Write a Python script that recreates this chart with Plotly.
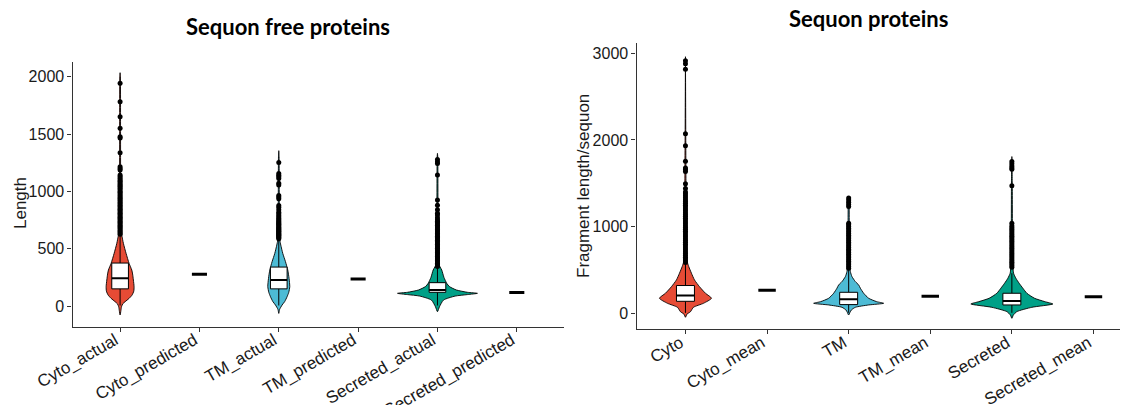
import plotly.graph_objects as go

# ---------------- data ----------------
left_categories = ["Cyto_actual", "Cyto_predicted", "TM_actual", "TM_predicted",
                   "Secreted_actual", "Secreted_predicted"]
right_categories = ["Cyto", "Cyto_mean", "TM", "TM_mean", "Secreted", "Secreted_mean"]

# violin density profiles: value levels and relative half-width (density)
cyto_l_levels = [-78, -40, -6, 20, 38, 67, 96, 130, 169, 227, 280, 314, 372, 459, 547, 619, 692, 800, 1100, 1500, 2000, 2035]
cyto_l_density = [0, 0.8, 1.4, 2.7, 5, 9, 12, 13.7, 14, 13.3, 12.5, 11.7, 9, 6, 3.3, 1.7, 1, 0.6, 0.5, 0.45, 0.3, 0]
tm_l_levels = [-64, -30, 9, 40, 81, 120, 169, 241, 314, 387, 459, 532, 576, 650, 900, 1300, 1355]
tm_l_density = [0, 0.8, 3.3, 6, 8.3, 10, 11, 10.3, 9, 6.7, 4, 2, 1, 0.6, 0.5, 0.3, 0]
sec_l_levels = [-49, -6, 52, 87, 100, 111, 120, 140, 170, 198, 250, 314, 343, 370, 420, 800, 1300, 1332]
sec_l_density = [0, 2, 6, 17.7, 30, 40, 30, 19, 12, 9.3, 6.5, 4.3, 2.5, 1.2, 0.7, 0.5, 0.3, 0]

cyto_r_levels = [-46, -10, 18, 69, 115, 173, 231, 307, 385, 462, 538, 596, 700, 1000, 1500, 2960]
cyto_r_density = [0, 1.5, 5, 8, 18, 26, 20, 14, 9, 6, 3.3, 1.7, 1, 0.6, 0.5, 0]
tm_r_levels = [-20, 10, 38, 69, 96, 115, 134, 173, 231, 289, 327, 365, 423, 481, 560, 800, 1300, 1340]
tm_r_density = [0, 1.3, 2.7, 6.7, 20, 35, 28, 20, 15, 11.7, 10, 6.7, 3.3, 1.7, 1, 0.6, 0.4, 0]
sec_r_levels = [-58, -20, 19, 69, 107, 134, 173, 231, 289, 346, 404, 462, 540, 800, 1500, 1808]
sec_r_density = [0, 1.5, 5, 20, 41, 33, 22.7, 15, 11, 7.3, 4, 1.7, 1, 0.6, 0.4, 0]

# box statistics: q1, median, q3, lower whisker, upper whisker
cyto_l_box = [150, 242, 375, 5, 615]
tm_l_box = [150, 227, 340, 5, 580]
sec_l_box = [120, 140, 204, 5, 340]
cyto_r_box = [138, 205, 320, 5, 577]
tm_r_box = [100, 163, 242, 5, 510]
sec_r_box = [96, 142, 231, 5, 462]

# predicted / mean values
left_predicted = [278, 237, 119]
right_mean = [265, 195, 192]

# outliers
cyto_l_out = [1942, 1782, 1651, 1550, 1477, 1465, 1337, 1215, 1200, 1186, 1143, 1130, 1114, 1100, 1088,
              1075, 1062, 1050, 1040, 1028, 1015, 1000, 990, 978, 965, 952, 940, 928, 916, 904, 892, 880,
              868, 856, 845, 833, 821, 810, 798, 786, 775, 763, 752, 740, 728, 717, 705, 694, 682, 671,
              660, 648, 637, 626]
tm_l_out = [1253, 1157, 1140, 1128, 1112, 1070, 1055, 965, 951, 935, 878, 862, 840, 818, 805, 790, 776,
            764, 753, 742, 733, 724, 716, 708, 700, 690, 682, 675, 667, 660, 652, 646, 638, 631, 624, 617,
            610, 602, 595, 588]
sec_l_out = [1279, 1259, 1244, 1143, 925, 880, 840, 810, 794, 770, 752, 740, 728, 716, 704, 692, 680, 668,
             656, 645, 633, 621, 609, 598, 586, 574, 562, 551, 539, 527, 515, 504, 492, 480, 468, 457, 445,
             433, 421, 410, 398, 386, 374, 363, 351, 345]
cyto_r_out = [2913, 2880, 2817, 2070, 1932, 1755, 1677, 1660, 1635, 1493, 1440, 1400, 1378, 1355, 1332,
              1310, 1290, 1268, 1247, 1225, 1204, 1182, 1160, 1139, 1118, 1096, 1075, 1054, 1032, 1010,
              989, 968, 946, 925, 904, 882, 860, 839, 818, 796, 775, 754, 732, 710, 689, 668, 646, 625,
              604, 585]
tm_r_out = [1330, 1308, 1282, 1255, 1231, 1040, 1020, 1000, 980, 960, 940, 920, 900, 880, 860, 840, 820,
            800, 780, 760, 740, 720, 700, 680, 660, 640, 620, 600, 580, 560, 540, 520]
sec_r_out = [1750, 1725, 1700, 1680, 1662, 1470, 1040, 1010, 990, 970, 950, 930, 910, 890, 870, 850, 830,
             810, 790, 770, 750, 730, 710, 690, 670, 650, 630, 610, 590, 570, 550, 530]

# ---------------- style ----------------
RED, BLUE, GREEN = "#E64B35", "#4DBBD5", "#00A087"
PPU_L, PPU_R = 79.4, 81.6   # pixels per category unit
TXT = "#1a1a1a"
FONT = "Liberation Sans, Arial, sans-serif"

fig = go.Figure()


def add_group(xa, ya, pos, levels, dens, box, outs, color, ppu, half_box):
    hw = [d / ppu for d in dens]
    xs = [pos - h for h in hw] + [pos + h for h in reversed(hw)]
    ys = list(levels) + list(reversed(levels))
    common = dict(xaxis=xa, yaxis=ya, showlegend=False, hoverinfo="skip")
    # violin body
    fig.add_trace(go.Scatter(x=xs, y=ys, mode="lines", fill="toself", fillcolor=color,
                             line=dict(color="black", width=0.9, shape="spline", smoothing=0.6),
                             **common))
    q1, med, q3, lf, uf = box
    # whiskers
    fig.add_trace(go.Scatter(x=[pos, pos, None, pos, pos], y=[lf, q1, None, q3, uf], mode="lines",
                             line=dict(color="black", width=1), **common))
    # box
    fig.add_trace(go.Scatter(x=[pos - half_box, pos + half_box, pos + half_box, pos - half_box,
                                pos - half_box],
                             y=[q1, q1, q3, q3, q1], mode="lines", fill="toself", fillcolor="white",
                             line=dict(color="black", width=1), **common))
    # median
    fig.add_trace(go.Scatter(x=[pos - half_box, pos + half_box], y=[med, med], mode="lines",
                             line=dict(color="black", width=2), **common))
    # outliers
    fig.add_trace(go.Scatter(x=[pos] * len(outs), y=outs, mode="markers",
                             marker=dict(color="black", size=5), **common))


def add_dash(xa, ya, pos, val, half):
    fig.add_trace(go.Scatter(x=[pos - half, pos + half], y=[val, val], xaxis=xa, yaxis=ya,
                             mode="lines", line=dict(color="black", width=3), showlegend=False,
                             hoverinfo="skip"))


add_group("x", "y", 1, cyto_l_levels, cyto_l_density, cyto_l_box, cyto_l_out, RED, PPU_L, 0.105)
add_group("x", "y", 3, tm_l_levels, tm_l_density, tm_l_box, tm_l_out, BLUE, PPU_L, 0.105)
add_group("x", "y", 5, sec_l_levels, sec_l_density, sec_l_box, sec_l_out, GREEN, PPU_L, 0.105)
for k, v in enumerate(left_predicted):
    add_dash("x", "y", 2 + 2 * k, v, 0.095)

add_group("x2", "y2", 1, cyto_r_levels, cyto_r_density, cyto_r_box, cyto_r_out, RED, PPU_R, 0.11)
add_group("x2", "y2", 3, tm_r_levels, tm_r_density, tm_r_box, tm_r_out, BLUE, PPU_R, 0.11)
add_group("x2", "y2", 5, sec_r_levels, sec_r_density, sec_r_box, sec_r_out, GREEN, PPU_R, 0.11)
for k, v in enumerate(right_mean):
    add_dash("x2", "y2", 2 + 2 * k, v, 0.107)

W, H = 1131, 405
axis_common = dict(showline=True, linecolor="#333333", linewidth=1.2, ticks="outside",
                   ticklen=4, tickwidth=1, tickcolor="#333333", showgrid=False, zeroline=False,
                   automargin=False, ticklabeloverflow="allow", fixedrange=True)
yfont = dict(family=FONT, size=16, color=TXT)
xfont = dict(family=FONT, size=17, color=TXT)
xlab = dict(tickangle=-30, tickfont=xfont, ticklabelstandoff=-8, ticklabelshift=-5)

fig.update_layout(
    width=W, height=H, autosize=False, margin=dict(l=0, r=0, t=0, b=0),
    plot_bgcolor="white", paper_bgcolor="white", showlegend=False,
    xaxis=dict(domain=[72.5 / W, 564.4 / W], range=[0.4, 6.6], tickvals=[1, 2, 3, 4, 5, 6],
               ticktext=left_categories, anchor="y", **xlab, **axis_common),
    yaxis=dict(domain=[(H - 326.7) / H, (H - 61.7) / H], range=[-180, 2131],
               tickvals=[0, 500, 1000, 1500, 2000], anchor="x", tickfont=yfont, **axis_common),
    xaxis2=dict(domain=[636.5 / W, 1120 / W], range=[0.4, 0.4 + (1120 - 636.5) / PPU_R],
                tickvals=[1, 2, 3, 4, 5, 6], ticktext=right_categories,
                anchor="y2", **xlab, **axis_common),
    yaxis2=dict(domain=[(H - 329.3) / H, (H - 43.3) / H], range=[-185, 3115],
                tickvals=[0, 1000, 2000, 3000], anchor="x2", tickfont=yfont, **axis_common),
)

fig.add_annotation(text="<b>Sequon free proteins</b>", x=287.5 / W, y=(H - 26) / H, xref="paper",
                   yref="paper", showarrow=False, xanchor="center", yanchor="middle",
                   font=dict(family="Lato, sans-serif", size=22, color="black"))
fig.add_annotation(text="<b>Sequon proteins</b>", x=868.6 / W, y=(H - 18.3) / H, xref="paper",
                   yref="paper", showarrow=False, xanchor="center", yanchor="middle",
                   font=dict(family="Lato, sans-serif", size=22, color="black"))
fig.add_annotation(text="Length", x=20 / W, y=(H - 203) / H, xref="paper", yref="paper",
                   showarrow=False, textangle=-90, xanchor="center", yanchor="middle",
                   font=dict(family=FONT, size=17, color=TXT))
fig.add_annotation(text="Fragment length/sequon", x=583 / W, y=(H - 186) / H, xref="paper",
                   yref="paper", showarrow=False, textangle=-90, xanchor="center", yanchor="middle",
                   font=dict(family=FONT, size=17, color=TXT))

fig.write_html("out.html", config={"displayModeBar": False},
               post_script="document.body.style.margin='0px';")
